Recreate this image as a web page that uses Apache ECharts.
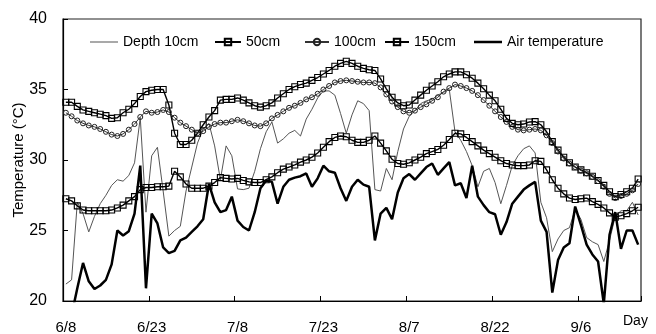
<!DOCTYPE html>
<html><head><meta charset="utf-8">
<script src="https://cdn.jsdelivr.net/npm/echarts@6/dist/echarts.min.js"></script>
<style>html,body{margin:0;padding:0;background:#fff}#c{width:656px;height:334px}</style>
</head><body><div id="c"></div>
<script>
// Daily data from 6/8 to 9/16 (101 days)
const startMonth = 6, startDay = 8, dayCount = 101;
const tickLabels = ['6/8','6/23','7/8','7/23','8/7','8/22','9/6'];
const yTicks = [20, 25, 30, 35, 40];

const depth10 = [
21.2,21.5,27.0,26.2,24.9,26.0,26.9,27.5,28.2,28.6,
28.5,28.9,29.8,33.0,26.3,30.3,30.9,27.8,24.6,25.0,
25.3,27.8,29.5,31.2,32.2,32.6,31.0,28.6,31.0,30.3,
27.95,27.9,28.0,29.2,30.8,32.0,32.7,31.2,31.5,31.9,
32.1,31.7,32.9,33.6,34.4,34.9,34.9,34.6,33.3,31.9,
33.2,34.2,34.0,33.5,27.9,27.8,29.4,28.6,30.6,32.2,
33.1,33.5,34.0,34.2,34.3,34.6,34.8,35.0,32.0,31.4,
30.6,29.6,28.1,29.2,29.4,28.4,26.9,28.2,29.6,30.3,
30.8,31.0,30.5,27.0,25.9,23.5,24.4,25.0,25.2,26.5,
25.8,24.5,24.2,24.0,22.8,24.3,26.0,26.4,26.4,27.0,26.1];

const cm50 = [
34.1,34.1,33.8,33.55,33.45,33.35,33.25,33.15,32.95,33.0,
33.35,33.6,34.0,34.5,34.85,34.95,35.0,35.0,33.9,31.9,
31.1,31.1,31.4,31.9,32.5,33.05,33.5,34.25,34.3,34.3,
34.4,34.25,34.05,33.85,33.75,33.85,34.05,34.4,34.7,35.0,
35.2,35.35,35.45,35.65,35.85,36.1,36.35,36.65,36.85,37.0,
36.85,36.65,36.5,36.4,36.35,35.75,35.05,34.45,34.05,33.85,
33.9,34.25,34.6,34.95,35.25,35.55,35.9,36.1,36.25,36.25,
36.05,35.8,35.45,35.05,34.6,34.2,33.6,32.95,32.6,32.5,
32.55,32.7,32.72,32.5,32.0,31.3,30.7,30.2,29.8,29.5,
29.3,29.1,28.85,28.55,28.2,27.75,27.4,27.55,27.75,28.0,28.65];

const cm100 = [
33.35,33.1,32.8,32.6,32.45,32.35,32.2,32.0,31.8,31.7,
31.85,32.15,32.55,33.05,33.45,33.35,33.4,33.55,33.4,33.0,
32.65,32.4,32.15,31.9,32.05,32.35,32.55,32.65,32.65,32.75,
32.85,32.75,32.6,32.45,32.4,32.6,32.95,33.2,33.45,33.7,
33.85,34.05,34.3,34.45,34.7,35.0,35.25,35.5,35.6,35.65,
35.6,35.55,35.5,35.5,35.45,35.15,34.65,34.15,33.75,33.45,
33.35,33.5,33.75,33.95,34.2,34.45,34.85,35.1,35.35,35.25,
35.1,34.9,34.6,34.25,33.85,33.45,33.05,32.7,32.35,32.15,
32.1,32.15,32.2,32.1,31.75,31.2,30.6,30.1,29.75,29.5,
29.25,29.05,28.8,28.5,28.1,27.6,27.3,27.45,27.6,27.85,28.3];

const cm150 = [
27.25,27.1,26.75,26.45,26.4,26.4,26.4,26.4,26.45,26.6,
26.8,27.1,27.4,27.9,28.05,28.05,28.1,28.1,28.15,29.2,
28.8,28.3,28.0,28.0,28.0,28.15,28.4,28.75,28.7,28.65,
28.7,28.55,28.45,28.4,28.4,28.6,28.8,29.1,29.35,29.5,
29.65,29.85,30.0,30.2,30.5,30.9,31.3,31.6,31.7,31.65,
31.4,31.25,31.25,31.4,31.7,31.2,30.65,30.05,29.75,29.7,
29.8,30.0,30.2,30.45,30.6,30.75,31.05,31.45,31.9,31.85,
31.6,31.3,31.0,30.7,30.45,30.2,29.95,29.75,29.65,29.6,
29.6,29.65,29.95,29.9,29.3,28.6,28.0,27.6,27.3,27.2,
27.25,27.3,27.05,26.85,26.6,26.25,25.95,26.05,26.2,26.4,26.65];

const airTemp = [
18.6,19.0,20.9,22.7,21.4,20.85,21.1,21.5,22.6,25.0,
24.65,24.95,26.2,29.6,20.9,26.2,25.5,23.8,23.4,23.55,
24.3,24.5,24.9,25.3,25.8,28.3,27.0,26.3,26.45,27.4,
25.7,25.25,25.0,26.3,28.0,28.55,28.45,26.9,28.1,28.6,
28.75,28.85,29.05,28.1,28.7,29.6,29.2,29.1,28.0,27.1,
28.1,28.6,28.25,28.1,24.3,26.2,26.6,25.8,27.7,28.7,
29.0,28.6,29.05,29.5,29.75,28.95,29.4,29.85,28.2,28.35,
27.3,29.6,27.4,26.8,26.3,26.15,24.7,25.6,26.9,27.4,
27.9,28.2,28.45,25.7,24.9,20.6,22.9,23.8,24.1,26.7,
25.4,24.0,23.3,22.8,19.8,24.7,26.3,23.7,25.0,25.0,24.0];

const categories = [];
for (let i = 0; i < dayCount; i++) {
  const d = new Date(2001, startMonth - 1, startDay + i);
  categories.push((d.getMonth() + 1) + '/' + d.getDate());
}

const FONT = '"Liberation Sans", Arial, sans-serif';
const chart = echarts.init(document.getElementById('c'), null, {renderer: 'canvas'});

// line-only legend icons (thin / thick) inside an 8px-high box
const thinLineIcon = 'path://M0,0L0.001,0M0,3.5L28,3.5L28,4.5L0,4.5ZM0,8L0.001,8';
const thickLineIcon = 'path://M0,0L0.001,0M0,2.75L28,2.75L28,5.25L0,5.25ZM0,8L0.001,8';

function legendAt(name, left, w, icon) {
  const item = {name: name};
  if (icon) item.icon = icon;
  return {
    data: [item], left: left, top: 35, padding: 0,
    itemWidth: w, itemHeight: 8, itemGap: 5,
    textStyle: {fontSize: 14, color: '#000', fontFamily: FONT},
    selectedMode: false
  };
}

const squareStyle = {color: 'rgba(255,255,255,0)', borderColor: '#000', borderWidth: 1.1};

chart.setOption({
  animation: false,
  backgroundColor: '#fff',
  grid: {left: 63, right: 15, top: 19, bottom: 33, containLabel: false, outerBoundsMode: 'none',
         show: true, borderColor: '#222', borderWidth: 1.2, backgroundColor: 'transparent'},
  legend: [
    legendAt('Depth 10cm', 90, 28, thinLineIcon),
    legendAt('50cm', 214, 26, null),
    legendAt('100cm', 304, 24, null),
    legendAt('150cm', 384, 24, null),
    legendAt('Air temperature', 474, 28, thickLineIcon)
  ],
  xAxis: {
    type: 'category', data: categories, boundaryGap: true,
    axisLine: {lineStyle: {color: '#000', width: 1.2}},
    axisTick: {show: true, inside: true, length: 5, interval: 14, lineStyle: {color: '#000'}},
    axisLabel: {interval: 14, margin: 19, fontSize: 15, color: '#000', fontFamily: FONT,
      formatter: v => tickLabels.includes(v) ? v : ''},
    splitLine: {show: false}
  },
  yAxis: {
    type: 'value', min: yTicks[0], max: yTicks[yTicks.length - 1], interval: 5,
    name: 'Temperature (°C)', nameLocation: 'middle', nameGap: 37, nameRotate: 90,
    nameMoveOverlap: false,
    nameTextStyle: {fontSize: 15, color: '#000', fontFamily: FONT},
    axisLine: {show: true, lineStyle: {color: '#000', width: 1.2}},
    axisTick: {show: true, inside: true, length: 5, lineStyle: {color: '#000'}},
    axisLabel: {margin: 16, fontSize: 16, color: '#000', fontFamily: FONT},
    splitLine: {show: false}
  },
  graphic: [{type: 'text', left: 623, top: 314, style: {text: 'Day', fontSize: 14, fill: '#000', fontFamily: FONT}}],
  series: [
    {name: 'Depth 10cm', type: 'line', data: depth10, symbol: 'none', clip: true,
     lineStyle: {color: '#555', width: 1}, itemStyle: {color: '#555'}, z: 2},
    {name: '50cm', type: 'line', data: cm50, symbol: 'rect', symbolSize: 6, showAllSymbol: true, clip: true,
     lineStyle: {color: '#000', width: 1.4}, itemStyle: squareStyle, z: 3},
    {name: '100cm', type: 'line', data: cm100, symbol: 'circle', symbolSize: 5, showAllSymbol: true, clip: true,
     lineStyle: {color: '#333', width: 1}, itemStyle: {color: 'rgba(255,255,255,0)', borderColor: '#222', borderWidth: 1}, z: 3},
    {name: '150cm', type: 'line', data: cm150, symbol: 'rect', symbolSize: 6, showAllSymbol: true, clip: true,
     lineStyle: {color: '#000', width: 1.4}, itemStyle: squareStyle, z: 3},
    {name: 'Air temperature', type: 'line', data: airTemp, symbol: 'none', clip: true,
     lineStyle: {color: '#000', width: 2.5}, itemStyle: {color: '#000'}, z: 4}
  ]
});
</script>
</body></html>
